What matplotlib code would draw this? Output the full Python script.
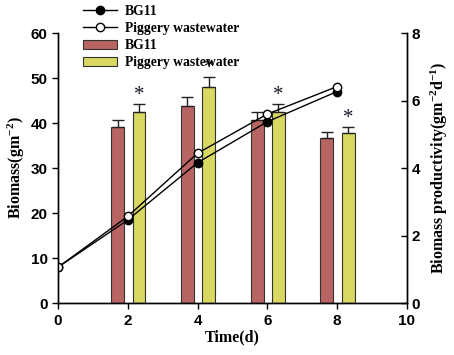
import numpy as np
import matplotlib
matplotlib.use('agg')
from matplotlib import pyplot as plt

# biomass (left axis, g m-2)
days = [0, 2, 4, 6, 8]
biomass_bg11 = [8.0, 18.5, 31.2, 40.3, 47.0]
biomass_pig = [8.0, 19.3, 33.3, 42.0, 48.1]

# productivity bars (right axis, g m-2 d-1)
bar_days = [2, 4, 6, 8]
prod_bg11 = [5.23, 5.85, 5.43, 4.89]
prod_bg11_err = [0.20, 0.27, 0.23, 0.19]
prod_pig = [5.67, 6.39, 5.67, 5.03]
prod_pig_err = [0.24, 0.31, 0.24, 0.20]

plt.rcParams['mathtext.fontset'] = 'custom'
plt.rcParams['mathtext.rm'] = 'Liberation Serif:bold'
plt.rcParams['mathtext.default'] = 'rm'

serif = dict(family='Liberation Serif', weight='bold', size=11.5)
sans = dict(family='Liberation Sans', weight='bold', size=11)

fig = plt.figure(figsize=(4.54, 3.55), dpi=100)
ax = fig.add_axes([0.128, 0.146, 0.768, 0.761])
ax2 = ax.twinx()
ax.set_zorder(ax2.get_zorder() + 1)
ax.patch.set_visible(False)

# bars on the right axis
xb = np.array(bar_days)
w = 0.37
b1 = ax2.bar(xb - 0.29, prod_bg11, w, color='#B86462', edgecolor='#333333', linewidth=0.8,
             label='BG11')
b2 = ax2.bar(xb + 0.32, prod_pig, w, color='#D8D862', edgecolor='#333333', linewidth=0.8,
             label='Piggery wastewater')
ax2.errorbar(xb - 0.29, prod_bg11, yerr=[np.zeros(4), prod_bg11_err], fmt='none',
             ecolor='#222222', elinewidth=1, capsize=4, capthick=1)
ax2.errorbar(xb + 0.32, prod_pig, yerr=[np.zeros(4), prod_pig_err], fmt='none',
             ecolor='#222222', elinewidth=1, capsize=4, capthick=1)
for x, v, e in zip(xb + 0.32, prod_pig, prod_pig_err):
    ax2.text(x, v + e - 0.04, '*', ha='center', va='bottom', fontsize=15,
             family='Liberation Serif', color='#1a1a2a')

# lines on the left axis
l1, = ax.plot(days, biomass_bg11, '-o', color='k', mfc='k', mec='k', ms=6, lw=1,
              label='BG11')
l2, = ax.plot(days, biomass_pig, '-o', color='k', mfc='white', mec='k', ms=6, lw=1,
              label='Piggery wastewater')

ax.set_xlim(0, 10)
ax.set_ylim(0, 60)
ax2.set_ylim(0, 8)
ax.set_xticks([0, 2, 4, 6, 8, 10])
ax.set_yticks([0, 10, 20, 30, 40, 50, 60])
ax2.set_yticks([0, 2, 4, 6, 8])

for a in (ax, ax2):
    a.spines['top'].set_visible(False)
    for s in a.spines.values():
        s.set_linewidth(1)
ax.tick_params(axis='both', direction='out', length=4, width=1)
ax2.tick_params(axis='y', direction='in', length=4, width=1)
for lab in ax.get_xticklabels() + ax.get_yticklabels() + ax2.get_yticklabels():
    lab.set_fontproperties(matplotlib.font_manager.FontProperties(**sans))

ax.set_xlabel('Time(d)', fontdict=serif, labelpad=1)
ax.set_ylabel('Biomass(gm$^{-2}$)', fontdict=serif, labelpad=3)
ax2.set_ylabel('Biomass productivity(gm$^{-2}$d$^{-1}$)', fontdict=serif, labelpad=6)

fig.legend([l1, l2, b1, b2], ['BG11', 'Piggery wastewater', 'BG11', 'Piggery wastewater'],
           loc='upper left', bbox_to_anchor=(0.168, 1.005), frameon=False,
           prop=dict(family='Liberation Serif', weight='bold', size=9.8),
           handlelength=2.5, handletextpad=0.6, labelspacing=0.3, borderaxespad=0.1)

fig.savefig('out.png', dpi=100)
